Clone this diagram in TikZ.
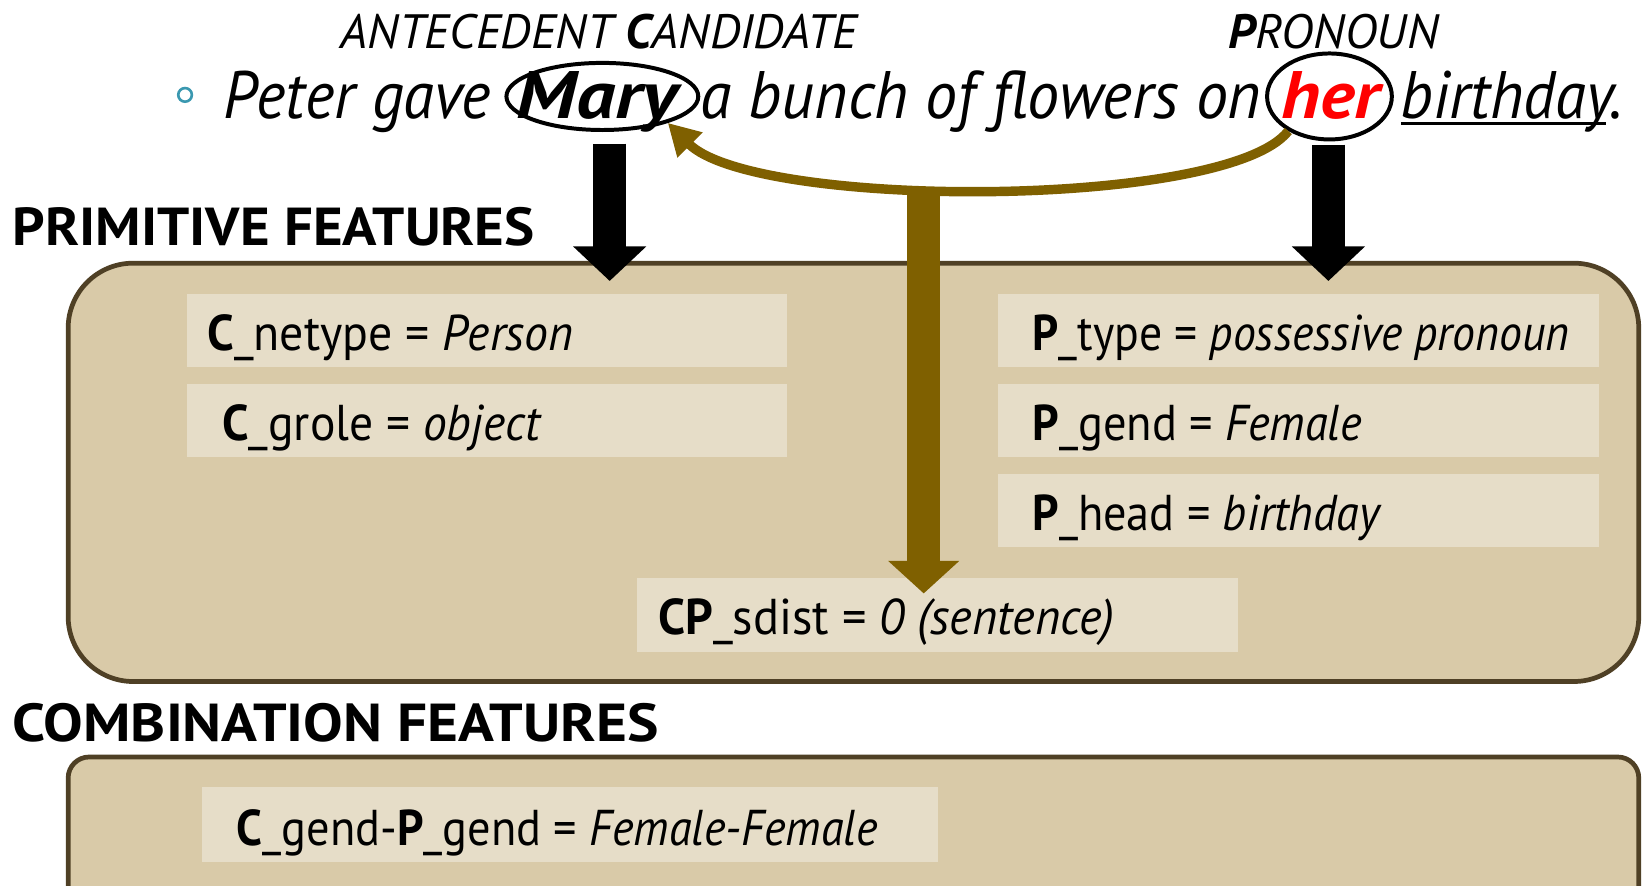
\documentclass[tikz,border=0pt]{standalone}
\usepackage{fontspec}
\setmainfont{PT Sans}
\usepackage{graphicx}
\usetikzlibrary{arrows.meta,shapes.geometric,calc}
\definecolor{boxfill}{HTML}{D9CAA8}
\definecolor{boxline}{HTML}{4F4025}
\definecolor{innerfill}{HTML}{E6DDC8}
\definecolor{arrbrown}{HTML}{7F6000}
\definecolor{bulletteal}{HTML}{3A98B0}
\newcommand{\fw}[2]{\resizebox{#1}{\height}{#2}}
\newcommand{\fsz}[1]{\fontsize{#1}{#1}\selectfont}
\tikzset{
 txt/.style={inner sep=0pt, outer sep=0pt, anchor=base west},
 bigbox/.style={draw=boxline, fill=boxfill, line width=4.5pt, rounded corners=62pt, inner sep=0pt},
 lbox/.style={fill=innerfill, inner sep=0pt, minimum width=573pt, minimum height=70pt},
 blk/.style={line width=31pt, -{Triangle[width=68pt,length=33pt]}},
 brownstem/.style={draw=arrbrown, line width=32pt, -{Triangle[width=66pt,length=31pt]}},
 browncurve/.style={draw=arrbrown, line width=9pt, -{Triangle[width=32pt,length=30pt]}},
 ring/.style={ellipse, draw, line width=3.8pt, inner sep=0pt},
}
\begin{document}
\begin{tikzpicture}[x=1pt,y=-1pt]
\useasboundingbox (0,0) rectangle (1568,845);
\clip (0,0) rectangle (1568,845);
\fill[white] (0,0) rectangle (1568,845);

% big boxes
\node[bigbox, minimum width=1498pt, minimum height=399pt] (prim) at (814,450.5) {};
\node[bigbox, rounded corners=20pt, minimum width=1498pt, minimum height=200pt] (comb) at (814,822) {};

% feature boxes
\node[lbox] (ln) at (464.5,315) {};
\node[lbox] (gr) at (464.5,401) {};
\node[lbox] (pt) at (1238.5,315) {};
\node[lbox] (pg) at (1238.5,401) {};
\node[lbox] (ph) at (1238.5,487) {};
\node[lbox] (cp) at (894.5,586.5) {};
\node[lbox, minimum width=702pt, minimum height=71pt] (cg) at (544,786.5) {};

% feature texts
\node[txt, font=\fsz{48}] (ln-t) at (198,334) {\fw{349pt}{\textbf{C}\_netype = \textit{Person}}};
\node[txt, font=\fsz{48}] (gr-t) at (212,420) {\fw{305pt}{\textbf{C}\_grole = \textit{object}}};
\node[txt, font=\fsz{48}] (pt-t) at (985,334) {\fw{512pt}{\textbf{P}\_type = \textit{possessive pronoun}}};
\node[txt, font=\fsz{48}] (pg-t) at (985,420) {\fw{314pt}{\textbf{P}\_gend = \textit{Female}}};
\node[txt, font=\fsz{48}] (ph-t) at (985,506) {\fw{333pt}{\textbf{P}\_head = \textit{birthday}}};
\node[txt, font=\fsz{48}] (cp-t) at (628,605) {\fw{435pt}{\textbf{CP}\_sdist = \textit{0 (sentence)}}};
\node[txt, font=\fsz{48}] (cg-t) at (226,806) {\fw{611pt}{\textbf{C}\_gend-\textbf{P}\_gend = \textit{Female-Female}}};

% section titles
\node[txt, font=\fsz{51}\bfseries] (primtitle) at (12,234) {\fw{498pt}{PRIMITIVE FEATURES}};
\node[txt, font=\fsz{51}\bfseries] (combtitle) at (12,707) {\fw{616pt}{COMBINATION FEATURES}};

% header labels
\node[txt, font=\fsz{46}\itshape] (antlabel) at (325,46) {\fw{493pt}{ANTECEDENT \textbf{C}ANDIDATE}};
\node[txt, font=\fsz{46}\itshape] (pronlabel) at (1172,46) {\fw{200pt}{\textbf{P}RONOUN}};

% sentence
\node[circle, draw=bulletteal, line width=2.5pt, minimum size=13pt, inner sep=0pt] (bullet) at (176.5,90.5) {};
\node[txt, font=\fsz{64}\itshape] (s1) at (213,113) {\fw{255pt}{Peter gave}};
\node[txt, font=\fsz{64}\itshape\bfseries] (marytxt) at (493,113) {\fw{153pt}{Mary}};
\node[txt, font=\fsz{64}\itshape] (s2) at (668,113) {\fw{535pt}{a bunch of flowers on}};
\node[txt, font=\fsz{64}\itshape\bfseries, text=red] (hertxt) at (1222,113) {\fw{94pt}{her}};
\node[txt, font=\fsz{64}\itshape] (bday) at (1336,113) {\fw{212pt}{birthday.}};
\draw[line width=3pt] ([yshift=-5pt]bday.base west) -- ([xshift=-16pt,yshift=-5pt]bday.base east);

% circled words
\node[ring, minimum width=183pt, minimum height=64pt] (mary) at (574.5,92) {};
\node[ring, minimum width=119pt, minimum height=82pt] (her) at (1268,92) {};

% black arrows
\coordinate (tipL) at (581.5,268);
\coordinate (tipR) at (1267,268);
\draw[blk] ($(mary.south -| tipL)+(0,11)$) -- (tipL);
\draw[blk] ($(her.south -| tipR)+(0,3)$) -- (tipR);

% brown arrows
\draw[browncurve] (her.220) .. controls (1170,200) and (720,200) .. (mary.-22);
\coordinate (junc) at (881,180);
\coordinate (stemtip) at (881,566);
\draw[brownstem] (junc) -- (stemtip);
\end{tikzpicture}
\end{document}
